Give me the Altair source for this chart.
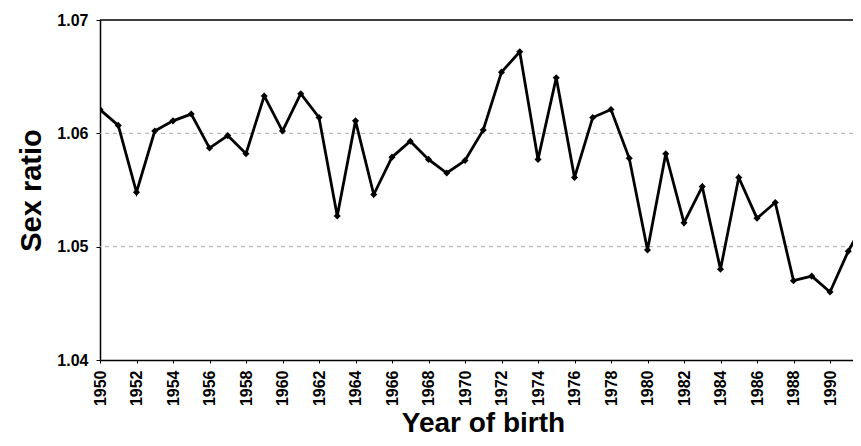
import altair as alt
import pandas as pd

years = list(range(1950, 1993))
ratio = [1.0621, 1.0607, 1.0548, 1.0602, 1.0611, 1.0617, 1.0587, 1.0598, 1.0582, 1.0633,
         1.0602, 1.0635, 1.0614, 1.0527, 1.0611, 1.0546, 1.0579, 1.0593, 1.0577, 1.0565,
         1.0576, 1.0603, 1.0654, 1.0672, 1.0577, 1.0649, 1.0561, 1.0614, 1.0621, 1.0578,
         1.0497, 1.0582, 1.0521, 1.0553, 1.0480, 1.0561, 1.0525, 1.0539, 1.0470, 1.0474,
         1.0460, 1.0496, 1.0525]
x_ticks = list(range(1950, 1993, 2))
y_ticks = [1.04, 1.05, 1.06, 1.07]
grid_vals = [1.05, 1.06]
x_domain = [1950, 1991.26]   # the original figure is cropped just past 1991
y_domain = [1.04, 1.07]

df = pd.DataFrame({"year": years, "ratio": ratio})
gdf = pd.DataFrame({"ratio": grid_vals})

FONT = "Liberation Sans"

xs = alt.Scale(domain=x_domain, nice=False, zero=False)
ys = alt.Scale(domain=y_domain, nice=False, zero=False)

x_axis = alt.Axis(values=x_ticks, format="d", labelAngle=-90, labelFontSize=16,
                  labelFontWeight="bold", labelFont=FONT, labelColor="black",
                  labelPadding=7, tickSize=3, tickColor="black",
                  labelOverlap=False, labelFlush=False, labelSeparation=0,
                  labelBound=False,
                  domainColor="black", domainWidth=1.5, grid=False,
                  title="Year of birth", titleFontSize=28, titleFont=FONT,
                  titleFontWeight="bold", titleColor="black",
                  titleX=383, titleY=71, titleBaseline="alphabetic",
                  titleAlign="center")
y_axis = alt.Axis(values=y_ticks, format=".2f", labelFontSize=16,
                  labelFontWeight="bold", labelFont=FONT, labelColor="black",
                  labelPadding=8, tickSize=4, tickColor="black",
                  labelOverlap=False, labelFlush=False,
                  domainColor="black", domainWidth=1.5, grid=False,
                  title="Sex ratio", titleFontSize=29, titleFont=FONT,
                  titleFontWeight="bold", titleColor="black",
                  titleX=-69, titleY=170, titleBaseline="middle",
                  titleAngle=-90)

x_enc = alt.X("year:Q", scale=xs, axis=x_axis)
y_enc = alt.Y("ratio:Q", scale=ys, axis=y_axis)

grid = alt.Chart(gdf).mark_rule(color="#aaaaaa", strokeDash=[4, 4], strokeWidth=1).encode(
    y=y_enc)

top = alt.Chart(gdf).mark_rule(color="black", strokeWidth=1.2).encode(
    x=alt.value(0), x2=alt.value(753), y=alt.value(0))

line = alt.Chart(df).mark_line(color="black", strokeWidth=2.8, clip=True).encode(x=x_enc, y=y_enc)
pts = alt.Chart(df).mark_point(shape="diamond", filled=True, color="black", size=50,
                               opacity=1, clip=True).encode(x=x_enc, y=y_enc)

chart = alt.layer(grid, top, line, pts).properties(
    width=753, height=340,
    autosize=alt.AutoSizeParams(type="none"),
    padding={"left": 92, "top": 12, "right": 0, "bottom": 78},
).configure_view(stroke=None)

chart.save("out.html", embed_options={"renderer": "svg", "actions": False})
